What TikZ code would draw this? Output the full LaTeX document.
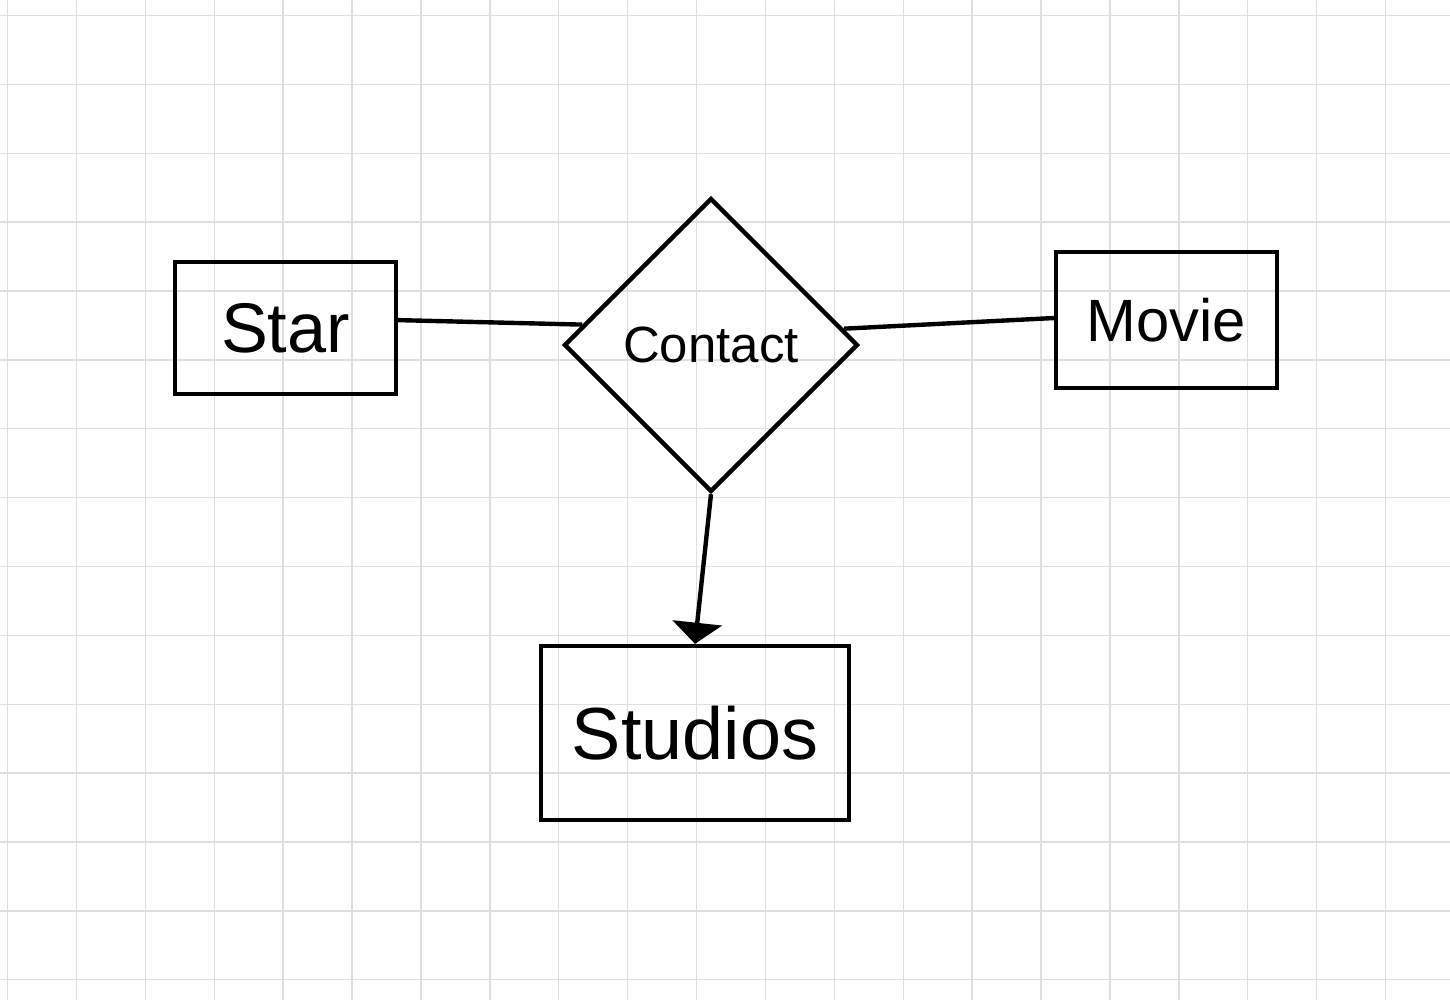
\documentclass[tikz,border=0pt]{standalone}
\usepackage{fontspec}
\setmainfont{Liberation Sans}
\usepackage{tikz}
\usetikzlibrary{arrows.meta,positioning,shapes.geometric}

\begin{document}
\begin{tikzpicture}[
  x=0.02cm, y=-0.02cm,
  gridline/.style={draw=gray!25, line width=0.8pt},
  entity/.style={draw, line width=2.5pt, inner sep=0pt},
  relation/.style={draw, diamond, aspect=1, line width=2.5pt, inner sep=0pt, minimum width=5.88cm, minimum height=5.88cm},
  link/.style={line width=2.5pt},
  arr/.style={-{Triangle[width=28pt, length=12pt]}, line width=2.5pt}
]
  \useasboundingbox (0,0) rectangle (1450,1000);
  \fill[white] (0,0) rectangle (1450,1000);
  % squared paper
  \foreach \k in {0,...,20} \draw[gridline] (7.5+68.9*\k,0) -- (7.5+68.9*\k,1000);
  \foreach \k in {0,...,14} \draw[gridline] (0,15.5+68.87*\k) -- (1450,15.5+68.87*\k);

  \node[entity, minimum width=4.42cm, minimum height=2.64cm, font=\fontsize{40}{44}\selectfont] (star) at (285.5,328) {Star};
  \node[relation, font=\fontsize{29}{33}\selectfont] (contact) at (711,345) {Contact};
  \node[entity, minimum width=4.42cm, minimum height=2.72cm, font=\fontsize{34}{38}\selectfont] (movie) at (1166.5,320) {Movie};
  \node[entity, minimum width=6.16cm, minimum height=3.48cm, font=\fontsize{42}{46}\selectfont] (studios) at (695,733) {Studios};

  \draw[link] (star.4) -- (contact.171);
  \draw[link] (contact.7) -- (movie.179);
  \draw[arr] (contact.south) -- (studios.north);
\end{tikzpicture}
\end{document}
